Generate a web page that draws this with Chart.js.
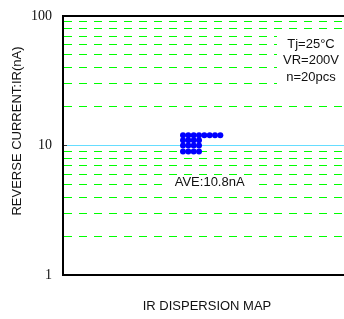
<!DOCTYPE html>
<html>
<head>
<meta charset="utf-8">
<script src="https://cdn.jsdelivr.net/npm/chart.js@4/dist/chart.umd.min.js"></script>
<style>
html,body{margin:0;padding:0;background:#fff;overflow:hidden;width:344px;height:319px}
#wrap{width:354px;height:319px;position:relative}
</style>
</head>
<body>
<div id="wrap"><canvas id="c"></canvas></div>
<script>
// ---- data ----
const levels = [12, 11, 10, 9];          // IR value of each row of dots (nA)
const counts = [8, 4, 4, 4];             // number of pieces at each value
const firstColumn = 22;                  // column index of first dot in each row
const yTicks = [1,2,3,4,5,6,7,8,9,10,20,30,40,50,60,70,80,90,100];
const yLabels = [1, 10, 100];
const referenceValue = 10;
const conditions = ['Tj=25°C', 'VR=200V', 'n=20pcs'];
const averageLabel = 'AVE:10.8nA';

const points = [];
levels.forEach((v, i) => {
  for (let k = 0; k < counts[i]; k++) points.push({x: firstColumn + k, y: v});
});

const SANS = '"Liberation Sans", Arial, sans-serif';
const SERIF = '"Liberation Serif", "Times New Roman", serif';

const notes = {
  id: 'notes',
  beforeDatasetsDraw(chart) {
    const {ctx, chartArea, scales: {x, y}} = chart;
    ctx.save();
    ctx.font = '13px ' + SANS;
    ctx.textAlign = 'center';
    ctx.textBaseline = 'middle';
    // conditions block
    const cx = x.getPixelForValue(46);
    const ys = [60.8, 45.7, 33.8].map(v => y.getPixelForValue(v));
    const w = Math.max(...conditions.map(t => ctx.measureText(t).width));
    const left = cx - w / 2 - 6;
    ctx.fillStyle = '#fff';
    ctx.fillRect(left, ys[0] - 12, chartArea.right - left, ys[2] - ys[0] + 25);
    ctx.fillStyle = '#111';
    conditions.forEach((t, i) => ctx.fillText(t, cx, ys[i]));
    // average label
    const ax = x.getPixelForValue(27);
    const ay = y.getPixelForValue(5.22);
    const aw = ctx.measureText(averageLabel).width;
    ctx.fillStyle = '#fff';
    ctx.fillRect(ax - aw / 2 - 11, ay - 7, aw + 22, 14);
    ctx.fillStyle = '#111';
    ctx.fillText(averageLabel, ax, ay);
    ctx.restore();
  }
};

new Chart(document.getElementById('c'), {
  type: 'scatter',
  data: {
    datasets: [{
      data: points,
      backgroundColor: '#0000ff',
      borderColor: '#0000ff',
      borderWidth: 0,
      pointRadius: 3,
      pointHoverRadius: 3
    }]
  },
  options: {
    responsive: true,
    maintainAspectRatio: false,
    animation: false,
    events: [],
    layout: {padding: {top: 16, left: 0, right: 0, bottom: 0}},
    plugins: {legend: {display: false}, tooltip: {enabled: false}},
    scales: {
      x: {
        type: 'linear', min: -0.5, max: 53.5, position: 'bottom',
        ticks: {display: false},
        grid: {display: false, drawTicks: false},
        border: {display: true, color: '#000', width: 2},
        title: {display: true, text: 'IR DISPERSION MAP', color: '#111',
                font: {family: SANS, size: 13}, padding: {top: 0, bottom: 5}},
        afterFit(s) { s.height = 44; s.paddingLeft = 0; s.paddingRight = 0; }
      },
      y: {
        type: 'logarithmic', min: 1, max: 100,
        afterBuildTicks(s) { s.ticks = yTicks.map(v => ({value: v})); },
        ticks: {
          autoSkip: false, padding: 15, color: '#111',
          font: {family: SERIF, size: 14},
          callback(v) { return yLabels.includes(v) ? String(v) : ''; }
        },
        grid: {
          drawTicks: true, tickLength: -4,
          tickColor(c) { return c.tick && c.tick.value === referenceValue ? '#333' : 'rgba(0,0,0,0)'; },
          tickWidth: 1,
          color(c) {
            const v = c.tick && c.tick.value;
            if (v === 1 || v === 100) return '#000';
            if (v === referenceValue) return '#66ddff';
            return '#00ff00';
          },
          lineWidth(c) {
            const v = c.tick && c.tick.value;
            return (v === 1 || v === 100) ? 2 : 1;
          }
        },
        border: {
          display: true, color: '#000', width: 2,
          dash(c) {
            const v = c.tick && c.tick.value;
            return (v === undefined || v === 1 || v === 100 || v === referenceValue) ? [] : [8, 7];
          }
        },
        title: {display: true, text: '        REVERSE CURRENT:IR(nA)', color: '#111',
                font: {family: SANS, size: 13}, padding: {top: 10, bottom: 0}},
        afterFit(s) { s.width = 63; s.paddingTop = 0; s.paddingBottom = 0; }
      }
    }
  },
  plugins: [notes]
});
</script>
</body>
</html>
